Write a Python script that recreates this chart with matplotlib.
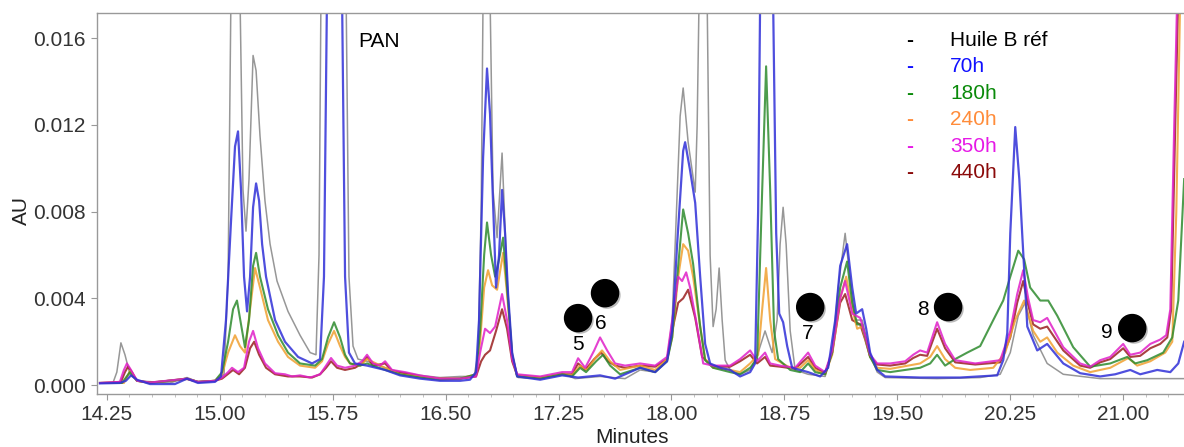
import numpy as np
import matplotlib
matplotlib.use('Agg')
import matplotlib.pyplot as plt
import matplotlib.patheffects as pe

plt.rcParams['font.family'] = ['Liberation Sans', 'DejaVu Sans']

# ── traces: retention time (min) and absorbance (mAU) ──
rt_ref = [14.204, 14.290, 14.316, 14.343, 14.370, 14.403, 14.450, 14.669, 14.782, 14.855,
          14.968, 15.028, 15.055, 15.074, 15.108, 15.134, 15.154, 15.174, 15.194, 15.221,
          15.241, 15.267, 15.300, 15.334, 15.380, 15.453, 15.533, 15.600, 15.639, 15.659,
          15.672, 15.752, 15.839, 15.858, 15.885, 15.918, 15.978, 16.098, 16.197, 16.330,
          16.463, 16.596, 16.689, 16.716, 16.736, 16.749, 16.769, 16.795, 16.815, 16.842,
          16.875, 16.908, 16.942, 16.982, 17.128, 17.274, 17.360, 17.526, 17.692, 17.792,
          17.892, 17.971, 18.005, 18.025, 18.058, 18.078, 18.111, 18.158, 18.171, 18.184,
          18.204, 18.237, 18.257, 18.277, 18.297, 18.317, 18.337, 18.357, 18.390, 18.456,
          18.523, 18.576, 18.622, 18.669, 18.702, 18.722, 18.742, 18.762, 18.789, 18.822,
          18.908, 19.021, 19.068, 19.108, 19.154, 19.188, 19.221, 19.267, 19.320, 19.367,
          19.420, 19.765, 20.051, 20.184, 20.251, 20.304, 20.350, 20.403, 20.496, 20.603,
          20.848, 21.406]
au_ref = [0.1, 0.1, 0.6, 1.95, 1.4, 0.5, 0.2, 0.1, 0.35, 0.15,
          0.2, 0.5, 5, 18, 35, 18, 9, 7.1, 9.5, 15.2,
          14.5, 11.5, 8.5, 6.5, 4.8, 3.4, 2.3, 1.5, 1.4, 6,
          18, 50, 18, 5, 1.8, 1.2, 1.1, 0.8, 0.6, 0.45,
          0.35, 0.4, 0.4, 1.5, 8, 18, 28, 18, 9, 6.8,
          10.7, 5.0, 1.2, 0.35, 0.3, 0.55, 0.3, 0.4, 0.3, 0.7,
          0.6, 1.2, 3.0, 6.5, 12.4, 13.7, 11.2, 8.9, 12, 18,
          30, 18, 6, 2.7, 3.5, 5.4, 3.0, 1.15, 0.7, 0.5,
          0.7, 1.5, 2.5, 1.5, 3, 6.5, 8.2, 6.5, 2.5, 0.7,
          0.5, 0.4, 1.5, 4.5, 7.0, 4.8, 3.0, 3.0, 1.4, 0.6,
          0.35, 0.3, 0.35, 0.5, 1.5, 3.2, 3.8, 2.3, 1.0, 0.5,
          0.3, 0.3]

rt_70 = [14.204, 14.336, 14.376, 14.410, 14.450, 14.536, 14.702, 14.782, 14.855, 14.968,
         15.008, 15.041, 15.074, 15.101, 15.121, 15.141, 15.161, 15.181, 15.201, 15.221,
         15.241, 15.261, 15.281, 15.307, 15.367, 15.433, 15.520, 15.613, 15.666, 15.692,
         15.712, 15.765, 15.812, 15.832, 15.858, 15.898, 15.978, 16.098, 16.197, 16.330,
         16.463, 16.596, 16.662, 16.702, 16.722, 16.749, 16.775, 16.795, 16.809, 16.835,
         16.855, 16.875, 16.895, 16.915, 16.942, 16.975, 17.128, 17.274, 17.380, 17.526,
         17.626, 17.792, 17.892, 17.971, 18.005, 18.038, 18.078, 18.091, 18.124, 18.158,
         18.191, 18.224, 18.257, 18.323, 18.390, 18.456, 18.523, 18.556, 18.576, 18.589,
         18.629, 18.676, 18.696, 18.716, 18.742, 18.769, 18.802, 18.908, 18.988, 19.041,
         19.088, 19.121, 19.167, 19.201, 19.227, 19.267, 19.294, 19.320, 19.367, 19.420,
         19.652, 19.918, 20.164, 20.204, 20.231, 20.251, 20.284, 20.311, 20.330, 20.364,
         20.430, 20.496, 20.603, 20.715, 20.848, 20.948, 21.048, 21.114, 21.227, 21.314,
         21.367, 21.406]
au_70 = [0.08, 0.1, 0.2, 0.45, 0.25, 0.05, 0.05, 0.3, 0.1, 0.15,
         0.4, 3.0, 7.5, 11.0, 11.7, 9.0, 5.0, 3.4, 5.0, 8.2,
         9.3, 8.5, 6.5, 5.0, 3.0, 2.0, 1.3, 1.0, 1.2, 5,
         18, 40, 18, 5, 1.5, 1.0, 0.9, 0.7, 0.45, 0.3,
         0.2, 0.2, 0.25, 0.6, 3.0, 10.5, 14.6, 12.5, 9.6, 4.5,
         6.0, 9.0, 7.0, 4.2, 1.5, 0.4, 0.25, 0.45, 0.35, 0.45,
         0.3, 0.8, 0.6, 1.1, 2.5, 6.5, 10.8, 11.2, 9.9, 8.4,
         5.0, 1.9, 1.0, 0.8, 0.7, 0.4, 0.6, 1.0, 8, 17.5,
         32, 17.5, 7, 3.3, 2.9, 1.8, 0.8, 0.6, 0.4, 0.8,
         3, 5.5, 6.5, 4.5, 3.3, 3.5, 2.6, 1.5, 0.7, 0.4,
         0.35, 0.35, 0.45, 1.15, 2.4, 7.0, 11.9, 9.5, 7.0, 2.7,
         1.6, 1.9, 1.0, 0.55, 0.4, 0.5, 0.7, 0.5, 0.7, 0.6,
         1.0, 2.0]

rt_180 = [14.204, 14.350, 14.403, 14.450, 14.536, 14.782, 14.855, 14.968, 15.015, 15.055,
          15.088, 15.114, 15.141, 15.167, 15.194, 15.221, 15.241, 15.267, 15.320, 15.387,
          15.453, 15.533, 15.633, 15.679, 15.719, 15.759, 15.799, 15.832, 15.865, 15.932,
          15.978, 16.098, 16.197, 16.330, 16.463, 16.596, 16.702, 16.729, 16.756, 16.775,
          16.802, 16.829, 16.855, 16.882, 16.908, 16.942, 16.975, 17.128, 17.274, 17.340,
          17.393, 17.433, 17.500, 17.546, 17.593, 17.659, 17.792, 17.892, 17.971, 18.005,
          18.045, 18.078, 18.111, 18.144, 18.191, 18.224, 18.277, 18.390, 18.456, 18.523,
          18.569, 18.603, 18.629, 18.656, 18.682, 18.709, 18.789, 18.855, 18.908, 18.955,
          19.021, 19.068, 19.121, 19.167, 19.201, 19.234, 19.267, 19.320, 19.367, 19.453,
          19.652, 19.719, 19.765, 19.818, 19.885, 19.965, 20.051, 20.138, 20.204, 20.251,
          20.304, 20.343, 20.383, 20.450, 20.503, 20.563, 20.669, 20.782, 20.915, 21.028,
          21.081, 21.161, 21.267, 21.327, 21.367, 21.406]
au_180 = [0.1, 0.1, 0.6, 0.2, 0.1, 0.3, 0.15, 0.2, 0.6, 2.0,
          3.5, 3.9, 2.8, 1.75, 3.0, 5.5, 6.1, 5.0, 3.5, 2.3,
          1.5, 1.0, 0.9, 1.2, 2.2, 2.9, 2.2, 1.4, 1.0, 0.9,
          1.0, 0.7, 0.5, 0.35, 0.25, 0.3, 0.5, 2.5, 6.0, 7.5,
          6.0, 5.0, 5.8, 6.8, 4.5, 1.4, 0.4, 0.3, 0.5, 0.4,
          0.8, 0.6, 1.1, 1.4, 0.9, 0.5, 0.8, 0.6, 1.1, 2.2,
          5.5, 8.1, 7.0, 5.6, 2.7, 1.15, 0.8, 0.6, 0.5, 0.8,
          1.2, 9, 14.7, 9, 2.5, 1.2, 0.7, 0.6, 1.0, 0.6,
          0.5, 1.5, 4.5, 5.7, 3.8, 2.8, 2.8, 1.3, 0.7, 0.6,
          0.8, 1.0, 1.4, 0.9, 1.2, 1.5, 1.8, 3.0, 3.9, 5.0,
          6.2, 5.8, 4.5, 3.9, 3.9, 3.2, 1.75, 0.85, 1.0, 1.3,
          1.0, 1.15, 1.5, 2.2, 3.9, 9.5]

rt_240 = [14.204, 14.363, 14.403, 14.450, 14.536, 14.782, 14.855, 14.968, 15.015, 15.055,
          15.101, 15.134, 15.167, 15.201, 15.234, 15.267, 15.320, 15.387, 15.453, 15.533,
          15.633, 15.679, 15.719, 15.759, 15.799, 15.832, 15.865, 15.932, 15.978, 16.098,
          16.197, 16.330, 16.463, 16.596, 16.702, 16.729, 16.756, 16.782, 16.809, 16.842,
          16.882, 16.908, 16.942, 16.975, 17.128, 17.274, 17.340, 17.393, 17.440, 17.500,
          17.539, 17.593, 17.659, 17.792, 17.892, 17.971, 18.005, 18.045, 18.078, 18.111,
          18.144, 18.191, 18.224, 18.277, 18.390, 18.456, 18.523, 18.576, 18.603, 18.629,
          18.656, 18.689, 18.789, 18.855, 18.908, 18.955, 19.021, 19.068, 19.121, 19.161,
          19.201, 19.234, 19.267, 19.320, 19.367, 19.453, 19.652, 19.719, 19.765, 19.818,
          19.885, 19.985, 20.138, 20.217, 20.284, 20.343, 20.403, 20.450, 20.496, 20.563,
          20.669, 20.782, 20.915, 21.035, 21.094, 21.181, 21.280, 21.327, 21.354, 21.380,
          21.406]
au_240 = [0.1, 0.1, 0.65, 0.2, 0.1, 0.3, 0.15, 0.2, 0.5, 1.5,
          2.3, 1.8, 1.5, 3.5, 5.4, 4.5, 3.0, 2.0, 1.3, 0.9,
          0.8, 1.1, 1.9, 2.5, 1.8, 1.3, 1.0, 0.9, 1.2, 0.8,
          0.5, 0.4, 0.3, 0.3, 0.5, 2.0, 4.5, 5.3, 4.6, 4.4,
          6.1, 4.2, 1.4, 0.45, 0.35, 0.5, 0.45, 0.9, 0.7, 1.3,
          1.6, 1.1, 0.7, 0.9, 0.7, 1.2, 2.2, 5.0, 6.5, 6.2,
          5.0, 2.7, 1.2, 0.8, 0.7, 0.6, 1.0, 1.4, 3.5, 5.4,
          3.0, 1.2, 0.8, 0.8, 1.15, 0.7, 0.5, 1.4, 4.0, 5.0,
          3.5, 2.6, 2.7, 1.3, 0.8, 0.75, 1.0, 1.3, 1.8, 1.2,
          0.8, 0.7, 0.8, 1.5, 3.0, 3.9, 2.5, 2.0, 2.2, 1.5,
          0.9, 0.6, 0.8, 1.25, 0.9, 1.1, 1.5, 2.0, 8, 18,
          22]

rt_350 = [14.204, 14.336, 14.363, 14.383, 14.410, 14.450, 14.536, 14.782, 14.855, 14.968,
          15.015, 15.055, 15.081, 15.121, 15.161, 15.194, 15.221, 15.254, 15.300, 15.367,
          15.433, 15.480, 15.533, 15.600, 15.666, 15.706, 15.739, 15.779, 15.832, 15.898,
          15.945, 15.978, 16.018, 16.064, 16.098, 16.144, 16.230, 16.330, 16.463, 16.596,
          16.702, 16.729, 16.762, 16.795, 16.829, 16.875, 16.908, 16.942, 16.975, 17.128,
          17.274, 17.340, 17.380, 17.427, 17.487, 17.526, 17.573, 17.626, 17.692, 17.792,
          17.892, 17.971, 18.005, 18.045, 18.071, 18.098, 18.124, 18.171, 18.211, 18.277,
          18.390, 18.456, 18.523, 18.569, 18.622, 18.656, 18.722, 18.822, 18.908, 18.955,
          19.021, 19.068, 19.121, 19.154, 19.201, 19.254, 19.287, 19.320, 19.367, 19.453,
          19.553, 19.606, 19.652, 19.699, 19.765, 19.818, 19.885, 20.018, 20.184, 20.251,
          20.297, 20.337, 20.370, 20.403, 20.450, 20.496, 20.603, 20.715, 20.782, 20.848,
          20.915, 21.001, 21.048, 21.114, 21.181, 21.247, 21.287, 21.314, 21.340, 21.360,
          21.406]
au_350 = [0.1, 0.15, 0.7, 1.0, 0.7, 0.2, 0.12, 0.3, 0.15, 0.2,
          0.35, 0.6, 0.8, 0.6, 0.8, 2.0, 2.5, 1.7, 1.0, 0.55,
          0.5, 0.4, 0.45, 0.35, 0.5, 0.9, 1.25, 0.9, 0.8, 0.9,
          1.1, 1.4, 1.0, 0.9, 1.1, 0.7, 0.6, 0.45, 0.3, 0.3,
          0.4, 1.5, 2.6, 2.4, 2.7, 4.2, 3.0, 1.2, 0.5, 0.4,
          0.6, 0.6, 1.24, 0.8, 1.6, 2.2, 1.6, 1.0, 0.9, 1.0,
          0.9, 1.3, 3.0, 5.0, 4.8, 5.2, 4.5, 2.7, 1.0, 0.9,
          0.9, 1.2, 1.6, 1.1, 1.5, 1.0, 0.9, 0.8, 1.5, 0.9,
          0.6, 1.6, 4.0, 4.8, 3.3, 3.1, 2.3, 1.4, 1.0, 1.0,
          1.1, 1.4, 1.6, 1.5, 2.9, 1.9, 1.15, 1.0, 1.15, 2.5,
          4.2, 5.3, 4.0, 3.0, 2.9, 3.1, 1.75, 1.0, 0.85, 1.15,
          1.3, 1.9, 1.4, 1.5, 1.9, 2.1, 2.3, 3.5, 12, 18,
          25]

rt_440 = [14.204, 14.343, 14.370, 14.390, 14.416, 14.450, 14.536, 14.782, 14.855, 14.968,
          15.015, 15.061, 15.088, 15.128, 15.167, 15.201, 15.228, 15.261, 15.307, 15.367,
          15.453, 15.533, 15.613, 15.666, 15.706, 15.739, 15.779, 15.832, 15.898, 15.945,
          15.978, 16.018, 16.098, 16.144, 16.230, 16.330, 16.463, 16.596, 16.702, 16.736,
          16.762, 16.795, 16.835, 16.875, 16.908, 16.942, 16.975, 17.128, 17.274, 17.340,
          17.380, 17.427, 17.487, 17.533, 17.579, 17.626, 17.692, 17.792, 17.892, 17.971,
          18.005, 18.045, 18.078, 18.111, 18.158, 18.204, 18.277, 18.390, 18.456, 18.523,
          18.569, 18.622, 18.656, 18.722, 18.822, 18.908, 18.955, 19.021, 19.068, 19.121,
          19.154, 19.201, 19.254, 19.287, 19.320, 19.367, 19.453, 19.553, 19.606, 19.652,
          19.699, 19.765, 19.818, 19.885, 20.018, 20.184, 20.251, 20.297, 20.337, 20.370,
          20.403, 20.450, 20.496, 20.603, 20.715, 20.782, 20.848, 20.915, 21.001, 21.048,
          21.114, 21.181, 21.247, 21.294, 21.320, 21.347, 21.367, 21.406]
au_440 = [0.1, 0.15, 0.6, 0.85, 0.6, 0.2, 0.12, 0.28, 0.15, 0.2,
          0.3, 0.55, 0.7, 0.5, 0.8, 1.7, 2.0, 1.4, 0.8, 0.5,
          0.4, 0.4, 0.35, 0.5, 0.8, 1.1, 0.8, 0.7, 0.8, 1.0,
          1.3, 0.9, 1.0, 0.65, 0.55, 0.4, 0.3, 0.3, 0.4, 1.1,
          1.4, 1.6, 2.5, 3.5, 2.6, 1.1, 0.45, 0.35, 0.5, 0.5,
          1.0, 0.7, 1.2, 1.5, 1.1, 0.9, 0.8, 0.9, 0.85, 1.2,
          2.5, 3.8, 4.0, 4.4, 3.1, 1.3, 0.85, 0.85, 1.1, 1.4,
          1.0, 1.3, 0.9, 0.85, 0.75, 1.3, 0.8, 0.55, 1.5, 3.8,
          4.2, 3.0, 2.8, 2.1, 1.3, 0.95, 0.9, 1.0, 1.25, 1.4,
          1.35, 2.6, 1.7, 1.05, 0.95, 1.05, 2.2, 3.8, 4.8, 3.7,
          2.8, 2.6, 2.7, 1.6, 0.9, 0.8, 1.05, 1.2, 1.7, 1.3,
          1.35, 1.7, 1.9, 2.2, 3.5, 12, 18, 24]

series_labels = ['Huile B réf', '70h', '180h', '240h', '350h', '440h']
legend_colors = ['#000000', '#1010ff', '#0a8a0a', '#ff8c3a', '#e619e6', '#8b0a0a']

peak_ids = ['5', '6', '7', '8', '9']
x_ticks = [14.25, 15.00, 15.75, 16.50, 17.25, 18.00, 18.75, 19.50, 20.25, 21.00]
y_ticks = [0.000, 0.004, 0.008, 0.012, 0.016]

# ── figure ──
fig = plt.figure(figsize=(11.84, 4.47), dpi=100)
ax = fig.add_axes([0.0819, 0.119, 0.9181, 0.852])

traces = [
    (rt_ref, au_ref, '#858585', 1.1),
    (rt_440, au_440, '#9a2020', 1.5),
    (rt_240, au_240, '#f0a030', 1.5),
    (rt_180, au_180, '#2e8b2e', 1.5),
    (rt_350, au_350, '#e020c8', 1.5),
    (rt_70,  au_70,  '#3030d8', 1.6),
]
for rt, au, col, lw in traces:
    ax.plot(rt, np.array(au) / 1000, color=col, lw=lw, alpha=0.85,
            solid_joinstyle='round')

ax.set_xlim(14.184, 21.405)
ax.set_ylim(-0.00040, 0.01716)
ax.set_xticks(x_ticks)
ax.set_xticklabels([f'{v:.2f}' for v in x_ticks])
ax.set_xticks(np.arange(14.25, 21.41, 0.15), minor=True)
ax.set_yticks(y_ticks)
ax.set_yticklabels([f'{v:.3f}' for v in y_ticks])

for side in ['left', 'top', 'bottom']:
    ax.spines[side].set_color('#999999')
    ax.spines[side].set_linewidth(1.0)
ax.spines['right'].set_visible(False)
ax.tick_params(axis='both', which='major', labelsize=15, colors='#999999',
               labelcolor='#333333', length=4, pad=4)
ax.tick_params(axis='both', which='minor', colors='#b8b8b8', length=2)

fig.text(0.534, 0.022, 'Minutes', fontsize=15, color='#222222', ha='center', va='center')
fig.text(0.018, 0.53, 'AU', fontsize=15, color='#222222', rotation=90,
         ha='center', va='center')

ax.text(0.240, 0.925, 'PAN', transform=ax.transAxes, fontsize=15,
        ha='left', va='center', color='black')

# legend as coloured text rows
for i, (lab, col) in enumerate(zip(series_labels, legend_colors)):
    y = 0.929 - i * 0.0697
    ax.text(0.748, y, '-', transform=ax.transAxes, color=col, fontsize=15,
            fontweight='bold', ha='center', va='center')
    ax.text(0.785, y, lab, transform=ax.transAxes, color=col, fontsize=15,
            ha='left', va='center')

# peak markers (black dots with numbers)
dot_pos = [(17.380, 0.00309), (17.559, 0.00424), (18.922, 0.00360),
           (19.838, 0.00360), (21.061, 0.00263)]
num_pos = [(17.380, 0.00189), (17.533, 0.00286), (18.902, 0.00240),
           (19.672, 0.00351), (20.895, 0.00244)]
for (dx, dy), (nx, ny), pid in zip(dot_pos, num_pos, peak_ids):
    ax.plot([dx], [dy], marker='o', ms=19.5, color='black', ls='none',
            path_effects=[pe.withSimplePatchShadow(offset=(1.5, -1.5),
                                                   shadow_rgbFace='#777777', alpha=0.5)])
    ax.text(nx, ny, pid, fontsize=15, ha='center', va='center', color='black')

fig.savefig('out.png', dpi=100)
